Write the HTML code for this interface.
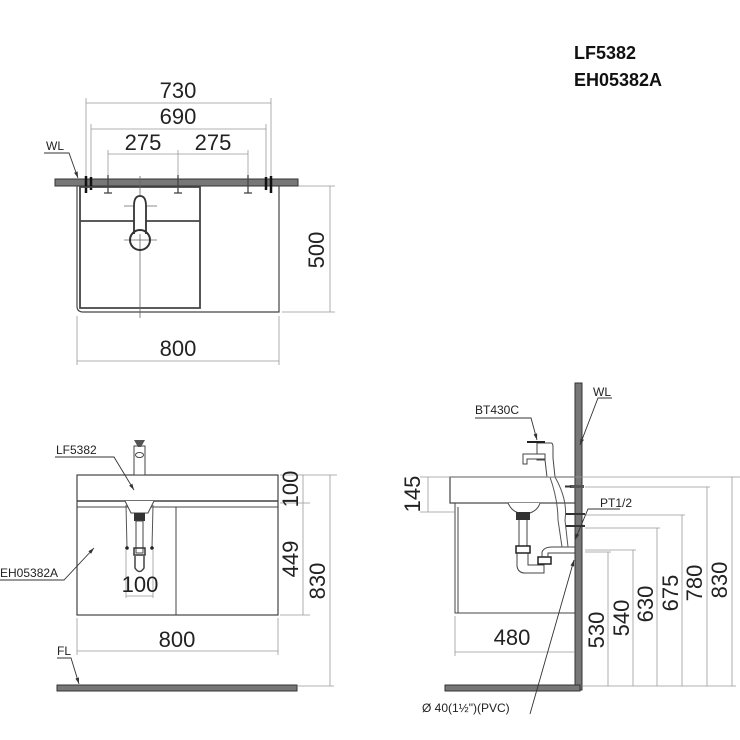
<!DOCTYPE html>
<html><head><meta charset="utf-8"><style>html,body{margin:0;padding:0;background:#fff}svg{display:block}</style></head><body>
<svg width="740" height="740" viewBox="0 0 740 740" xmlns="http://www.w3.org/2000/svg" font-family="Liberation Sans, sans-serif">
<defs><marker id="a" viewBox="0 0 10 10" refX="10" refY="5" markerWidth="7" markerHeight="7" orient="auto-start-reverse"><path d="M0,2 L10,5 L0,8 z" fill="#333"/></marker></defs>
<g fill="#111" font-weight="bold" font-size="18">
<text x="574" y="59">LF5382</text><text x="574" y="86">EH05382A</text></g>

<!-- TOP VIEW -->
<g stroke="#999" stroke-width="0.8" fill="none">
<line x1="86" y1="103" x2="271" y2="103"/><line x1="91" y1="129" x2="266" y2="129"/>
<line x1="108" y1="154" x2="248" y2="154"/>
<line x1="86" y1="98" x2="86" y2="180"/><line x1="271" y1="98" x2="271" y2="180"/>
<line x1="91" y1="124" x2="91" y2="180"/><line x1="266" y1="124" x2="266" y2="180"/>
<line x1="108" y1="150" x2="108" y2="180"/><line x1="178" y1="150" x2="178" y2="180"/><line x1="248" y1="150" x2="248" y2="180"/>
<line x1="282" y1="186" x2="335" y2="186"/><line x1="282" y1="312" x2="335" y2="312"/><line x1="330" y1="186" x2="330" y2="312"/>
<line x1="77" y1="316" x2="77" y2="365"/><line x1="279" y1="316" x2="279" y2="365"/><line x1="77" y1="361" x2="279" y2="361"/>
</g>
<g font-size="22" fill="#222" text-anchor="middle">
<text x="178" y="98">730</text><text x="178" y="124">690</text><text x="143" y="150">275</text><text x="213" y="150">275</text>
<text x="178" y="356">800</text>
<text transform="translate(324,250) rotate(-90)">500</text></g>
<rect x="55" y="179" width="243" height="7" fill="#777" stroke="#333" stroke-width="1"/>
<g stroke="#111" stroke-width="2.5"><line x1="86" y1="176" x2="86" y2="193"/><line x1="91" y1="177" x2="91" y2="190"/><line x1="266" y1="177" x2="266" y2="190"/><line x1="271" y1="176" x2="271" y2="193"/></g>
<g stroke="#444" stroke-width="1.3"><line x1="108" y1="175" x2="108" y2="193"/><line x1="178" y1="175" x2="178" y2="193"/><line x1="248" y1="175" x2="248" y2="193"/>
<line x1="104" y1="193" x2="112" y2="193"/><line x1="174" y1="193" x2="182" y2="193"/><line x1="244" y1="193" x2="252" y2="193"/></g>
<path d="M77,186 V306 Q77,312 83,312 H279 V186" fill="none" stroke="#444" stroke-width="1.2"/>
<path d="M80,187 H200 V308 H80 Z M80,221 H200" fill="none" stroke="#444" stroke-width="1.8"/>
<g stroke="#666" stroke-width="0.8"><line x1="140" y1="176" x2="140" y2="318"/><line x1="124" y1="206" x2="157" y2="206"/><line x1="124" y1="240" x2="157" y2="240"/></g>
<path d="M134,234 V206 Q134,196 140,196 Q146,196 146,206 V234" fill="#fff" stroke="#333" stroke-width="1.8"/>
<circle cx="140" cy="240" r="10" fill="none" stroke="#333" stroke-width="2"/>
<text x="46" y="150" font-size="12" fill="#222">WL</text>
<path d="M44,153 H69 L78,178" fill="none" stroke="#333" stroke-width="0.9" marker-end="url(#a)"/>

<!-- FRONT VIEW -->
<rect x="77" y="475" width="201" height="140" fill="none" stroke="#444" stroke-width="1.2"/>
<line x1="77" y1="501" x2="278" y2="501" stroke="#444" stroke-width="1.5"/><line x1="77" y1="507" x2="278" y2="507" stroke="#444"/>
<line x1="176" y1="507" x2="176" y2="615" stroke="#444"/>
<rect x="134" y="446" width="11" height="29" fill="#fff" stroke="#444"/><path d="M134,440 H145 L141,447 H138 Z" fill="#555"/><ellipse cx="139.5" cy="455" rx="4" ry="2.5" fill="none" stroke="#444"/>
<path d="M125,501 L131,513 H148 L154,501" fill="#fff" stroke="#444"/>
<rect x="134" y="513" width="11" height="8" fill="#333"/>
<rect x="136" y="521" width="7" height="32" fill="none" stroke="#444"/>
<rect x="134" y="548" width="11" height="7" fill="none" stroke="#333" stroke-width="1.5"/>
<path d="M135,556 V568 Q139.5,575 144,568 V556" fill="none" stroke="#444" stroke-width="1.5"/>
<g stroke="#555"><line x1="126" y1="505" x2="127" y2="548"/><line x1="153" y1="505" x2="152" y2="548"/></g>
<circle cx="127" cy="548" r="1.8" fill="#222"/><circle cx="152" cy="548" r="1.8" fill="#222"/>
<g stroke="#999" stroke-width="0.8" fill="none">
<line x1="126" y1="550" x2="126" y2="598"/><line x1="153" y1="550" x2="153" y2="598"/><line x1="126" y1="596" x2="153" y2="596"/>
<line x1="280" y1="475" x2="337" y2="475"/><line x1="280" y1="503" x2="310" y2="503"/><line x1="280" y1="615" x2="310" y2="615"/>
<line x1="303" y1="475" x2="303" y2="615"/><line x1="330" y1="475" x2="330" y2="686"/><line x1="298" y1="686" x2="334" y2="686"/>
<line x1="77" y1="618" x2="77" y2="655"/><line x1="278" y1="618" x2="278" y2="655"/><line x1="77" y1="651" x2="278" y2="651"/>
</g>
<g font-size="22" fill="#222" text-anchor="middle">
<text x="140" y="592">100</text><text x="177" y="647">800</text>
<text transform="translate(298,489) rotate(-90)">100</text>
<text transform="translate(298,559) rotate(-90)">449</text>
<text transform="translate(325,581) rotate(-90)">830</text></g>
<rect x="57" y="685" width="240" height="6" fill="#777" stroke="#333"/>
<g font-size="12" fill="#222"><text x="56" y="454">LF5382</text><text x="0" y="577">EH05382A</text><text x="57" y="655">FL</text></g>
<g fill="none" stroke="#333" stroke-width="0.9">
<path d="M55,457 H114 L134,490" marker-end="url(#a)"/>
<path d="M0,580 H64 L94,548" marker-end="url(#a)"/>
<path d="M57,658 H71 L79,684" marker-end="url(#a)"/></g>

<!-- SIDE VIEW -->
<rect x="575" y="383" width="7" height="307" fill="#777" stroke="#333"/>
<rect x="445" y="685" width="135" height="6" fill="#777" stroke="#333"/>
<rect x="450" y="477" width="125" height="26" fill="#fff" stroke="#444" stroke-width="1.2"/>
<path d="M455,503 V613 H575" fill="none" stroke="#444"/><line x1="458" y1="507" x2="458" y2="613" stroke="#444"/>
<path d="M508,503 Q512,512 520,513 H530 Q538,510 540,503" fill="#fff" stroke="#444"/>
<rect x="516" y="512" width="14" height="8" fill="#333"/>
<path d="M519,520 V552 M527,520 V548" stroke="#444" fill="none"/>
<rect x="516" y="546" width="14" height="7" fill="#fff" stroke="#222" stroke-width="1.5"/>
<path d="M517,553 V566 Q518,573 525,573 H544 V563 M528,553 V565 H544" fill="none" stroke="#444"/>
<rect x="538" y="557" width="13" height="7" fill="#fff" stroke="#222" stroke-width="1.5"/>
<path d="M542,557 V552 Q544,547 552,547 H575 M548,557 V553 H575" fill="none" stroke="#444"/>
<path d="M555,477 Q568,500 565,520 L568,547 M550,477 Q558,500 558,520 L562,547" fill="none" stroke="#555"/>
<rect x="570" y="485" width="14" height="3" fill="#555"/><line x1="565" y1="486.5" x2="571" y2="486.5" stroke="#333" stroke-width="2"/>
<line x1="566" y1="514" x2="585" y2="514" stroke="#333" stroke-width="2"/><line x1="566" y1="526" x2="585" y2="526" stroke="#333" stroke-width="2"/>
<!-- faucet -->
<path d="M537,443 H551 Q553,443 553,447 V458 L555,477 H547 L545,460 H537 Z" fill="#fff" stroke="#444"/>
<path d="M523,454 H545 V459 H527 V464 H523 Z" fill="#fff" stroke="#444"/>
<line x1="527" y1="442" x2="545" y2="442" stroke="#222" stroke-width="2"/>
<g stroke="#999" stroke-width="0.8" fill="none">
<line x1="420" y1="477" x2="740" y2="477"/><line x1="420" y1="512" x2="455" y2="512"/><line x1="428" y1="477" x2="428" y2="512"/>
<line x1="585" y1="487" x2="710" y2="487"/><line x1="585" y1="515" x2="685" y2="515"/><line x1="585" y1="528" x2="660" y2="528"/>
<line x1="585" y1="550" x2="636" y2="550"/><line x1="585" y1="552" x2="611" y2="552"/>
<line x1="732" y1="477" x2="732" y2="686"/><line x1="707" y1="487" x2="707" y2="686"/><line x1="682" y1="515" x2="682" y2="686"/>
<line x1="657" y1="528" x2="657" y2="686"/><line x1="633" y1="550" x2="633" y2="686"/><line x1="608" y1="552" x2="608" y2="686"/>
<line x1="582" y1="686" x2="736" y2="686"/>
<line x1="455" y1="616" x2="455" y2="656"/><line x1="455" y1="652" x2="575" y2="652"/>
</g>
<g font-size="22" fill="#222" text-anchor="middle">
<text x="512" y="645">480</text>
<text transform="translate(420,494) rotate(-90)">145</text>
<text transform="translate(604,630) rotate(-90)">530</text>
<text transform="translate(629,618) rotate(-90)">540</text>
<text transform="translate(653,604) rotate(-90)">630</text>
<text transform="translate(678,593) rotate(-90)">675</text>
<text transform="translate(702,583) rotate(-90)">780</text>
<text transform="translate(727,580) rotate(-90)">830</text></g>
<g font-size="12" fill="#222"><text x="475" y="414">BT430C</text><text x="593" y="396">WL</text><text x="600" y="507">PT1/2</text><text x="422" y="712">Ø  40(1½")(PVC)</text></g>
<g fill="none" stroke="#333" stroke-width="0.9">
<path d="M475,418 H531 L537,440" marker-end="url(#a)"/>
<path d="M612,398 H598 L580,445" marker-end="url(#a)"/>
<path d="M620,509 H588 L575,540" marker-end="url(#a)"/>
<path d="M530,714 L574,560" marker-end="url(#a)"/></g>
</svg>
</body></html>
